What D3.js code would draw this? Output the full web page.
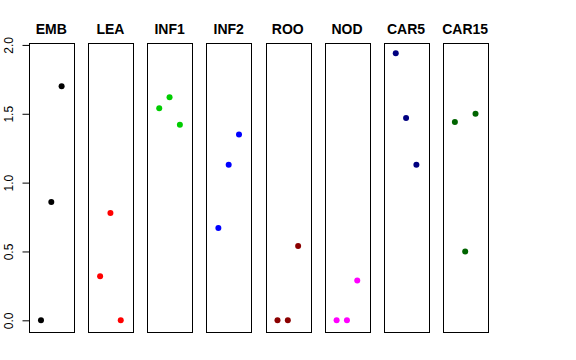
<!DOCTYPE html>
<html>
<head>
<meta charset="utf-8">
<script src="https://cdn.jsdelivr.net/npm/d3@7"></script>
<style>
body{margin:0;background:#fff;}
svg{display:block;font-family:"Liberation Sans",Arial,sans-serif;}
</style>
</head>
<body>
<script>
const width=576, height=360;

const groups=['EMB','LEA','INF1','INF2','ROO','NOD','CAR5','CAR15'];
const colors=['#000000','#FF0000','#00CD00','#0000FF','#8B0000','#FF00FF','#000080','#006400'];
const values=[
  [0.00,0.86,1.70],
  [0.32,0.78,0.00],
  [1.54,1.62,1.42],
  [0.67,1.13,1.35],
  [0.00,0.00,0.54],
  [0.00,0.00,0.29],
  [1.94,1.47,1.13],
  [1.44,0.50,1.50]
];
const yTicks=[0,0.5,1,1.5,2];

let svg=d3.select('body').append('svg')
  .attr('width',width).attr('height',height);

// panels across
let xBand=d3.scaleBand().domain(groups).range([29,487.5]).paddingInner(0.2458).paddingOuter(0);

// y range padded 4% like base R
let all=values.flat();
let ymin=d3.min(all), ymax=d3.max(all), pad=(ymax-ymin)*0.04;
let y=d3.scaleLinear().domain([ymin-pad,ymax+pad]).range([331,42.5]);

groups.forEach((g,i)=>{
  let x0=xBand(g), bw=xBand.bandwidth();
  let x=d3.scaleLinear().domain([-0.16,4.16]).range([x0,x0+bw]);
  let p=svg.append('g');

  p.append('rect')
    .attr('x',Math.round(x0)+0.5).attr('y',Math.round(y.range()[1])+0.5)
    .attr('width',Math.round(bw)).attr('height',Math.round(y.range()[0]-y.range()[1]))
    .attr('fill','none').attr('stroke','#000').attr('stroke-width',1);

  p.append('text').text(g)
    .attr('x',x0+bw/2).attr('y',34)
    .attr('text-anchor','middle')
    .style('font-weight','bold').style('font-size','14px');

  p.selectAll('circle').data(values[i]).enter().append('circle')
    .attr('cx',(d,j)=>x(j+1)).attr('cy',d=>y(d))
    .attr('r',3).attr('fill',colors[i]);
});

// y axis on first panel
let ax=svg.append('g').attr('transform',`translate(${Math.round(xBand(groups[0]))+0.5},0)`);
ax.call(d3.axisLeft(y).tickValues(yTicks).tickSize(7).tickFormat(d3.format('.1f')));
ax.select('.domain').remove();
ax.append('line').attr('x1',0).attr('x2',0)
  .attr('y1',y(yTicks[0])).attr('y2',y(yTicks[yTicks.length-1]))
  .attr('stroke','#000');
ax.selectAll('.tick text')
  .attr('x',0).attr('dy',0)
  .attr('transform','translate(-17,0) rotate(-90)')
  .attr('text-anchor','middle')
  .style('font-size','12px').style('font-family','"Liberation Sans",Arial,sans-serif')
  .attr('fill','#000');
ax.selectAll('.tick line').attr('stroke','#000');
</script>
</body>
</html>
